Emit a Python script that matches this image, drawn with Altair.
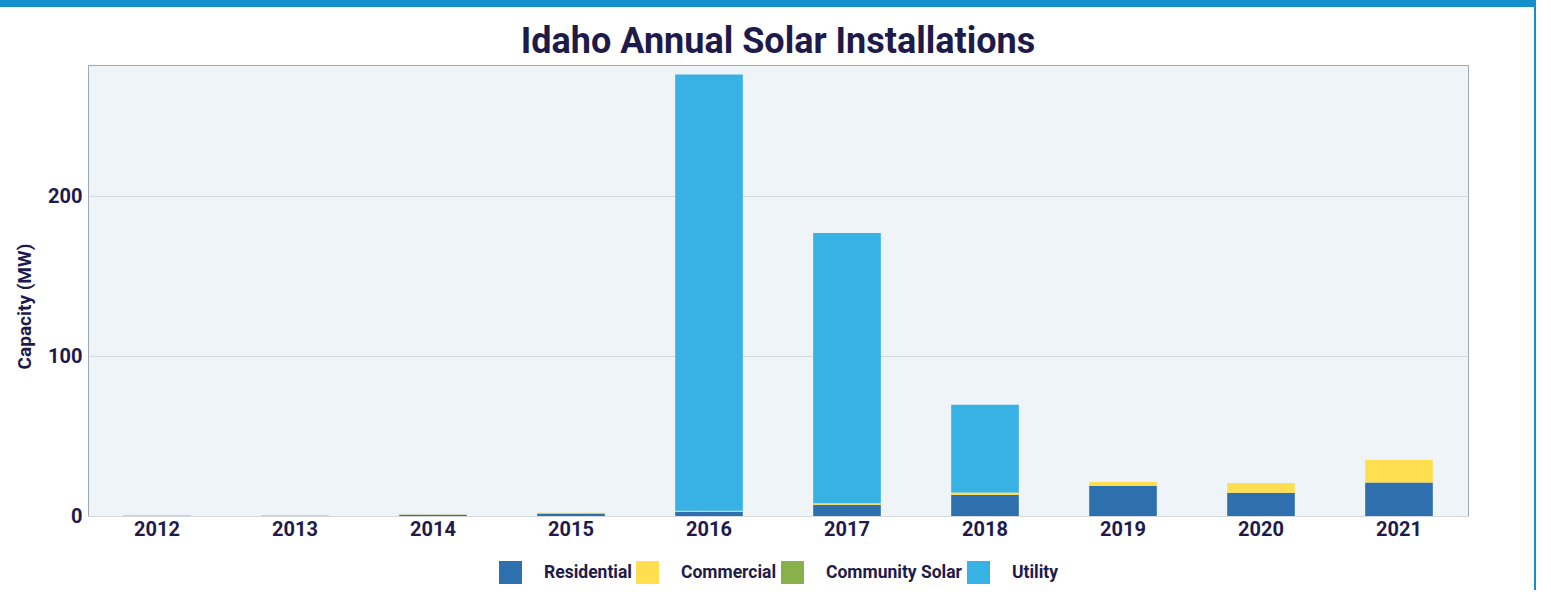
import altair as alt
import pandas as pd

years = ["2012", "2013", "2014", "2015", "2016", "2017", "2018", "2019", "2020", "2021"]
segments = ["Residential", "Commercial", "Community Solar", "Utility"]
residential = [0.1, 0.2, 0.8, 1.5, 2.5, 7.1, 13.2, 18.9, 14.5, 21.0]
commercial = [0.05, 0.05, 0.1, 0.6, 0.5, 0.9, 1.3, 2.3, 6.1, 14.0]
community = [0.0, 0.0, 0.0, 0.0, 0.3, 0.0, 0.2, 0.0, 0.0, 0.0]
utility = [0.0, 0.0, 0.0, 0.0, 272.7, 168.9, 54.8, 0.0, 0.0, 0.0]
colors = ["#2e6fad", "#ffdf4f", "#88b04b", "#38b2e4"]

rows = []
for i, y in enumerate(years):
    for k, (seg, vals) in enumerate(zip(segments, [residential, commercial, community, utility])):
        rows.append({"Year": y, "Segment": seg, "Capacity": vals[i], "ord": k})
df = pd.DataFrame(rows)

TEXT = "#1e1b4b"
FONT = "Roboto"

bars = alt.Chart(df).mark_bar().encode(
    x=alt.X("Year:N", sort=years, title=None,
            scale=alt.Scale(paddingInner=0.51, paddingOuter=0.255),
            axis=alt.Axis(labelAngle=0, ticks=False, domain=False, labelPadding=3,
                          labelFontSize=20, labelFontWeight="bold", labelColor=TEXT, labelFont=FONT)),
    y=alt.Y("Capacity:Q", stack="zero", title="Capacity (MW)",
            scale=alt.Scale(domain=[0, 282], nice=False),
            axis=alt.Axis(values=[0, 100, 200], ticks=False, domain=False, labelPadding=6,
                          labelFontSize=20, labelFontWeight="bold", labelColor=TEXT, labelFont=FONT,
                          titleFontSize=19, titleFontWeight="bold", titleColor=TEXT, titleFont=FONT,
                          titlePadding=13, titleY=241, gridColor="#d3d8de", gridWidth=1)),
    color=alt.Color("Segment:N", sort=segments,
                    scale=alt.Scale(domain=segments, range=colors),
                    legend=alt.Legend(title=None, orient="none", direction="horizontal",
                                      legendX=411, legendY=496,
                                      symbolType="square", symbolSize=529, symbolStrokeWidth=0,
                                      labelFontSize=17.5, labelFontWeight="bold", labelColor=TEXT,
                                      labelFont=FONT, labelOffset=22, columnPadding=4)),
    order=alt.Order("ord:Q"),
)

frame_df = pd.DataFrame({"a": [0]})
top_bar = alt.Chart(frame_df).mark_rule(color="#1390cb", strokeWidth=7).encode(
    x=alt.value(-88), x2=alt.value(1448), y=alt.value(-61.5))
right_line = alt.Chart(frame_df).mark_rule(color="#1390cb", strokeWidth=2).encode(
    x=alt.value(1447), y=alt.value(-65), y2=alt.value(530))

chart = alt.layer(bars, top_bar, right_line).properties(
    width=1380, height=451,
    autosize=alt.AutoSizeParams(type="none"),
    padding={"left": 88, "top": 65, "right": 68, "bottom": 74},
    background="white",
    title=alt.Title("Idaho Annual Solar Installations", anchor="middle", fontSize=36,
                    font=FONT, fontWeight="bold", color=TEXT, offset=-98,
                    frame="group", baseline="bottom"),
).configure_view(
    fill="#eef4f7", stroke="#9aa9b8", strokeWidth=1
)

chart.save("out.html", embed_options={"renderer": "svg", "actions": False})
